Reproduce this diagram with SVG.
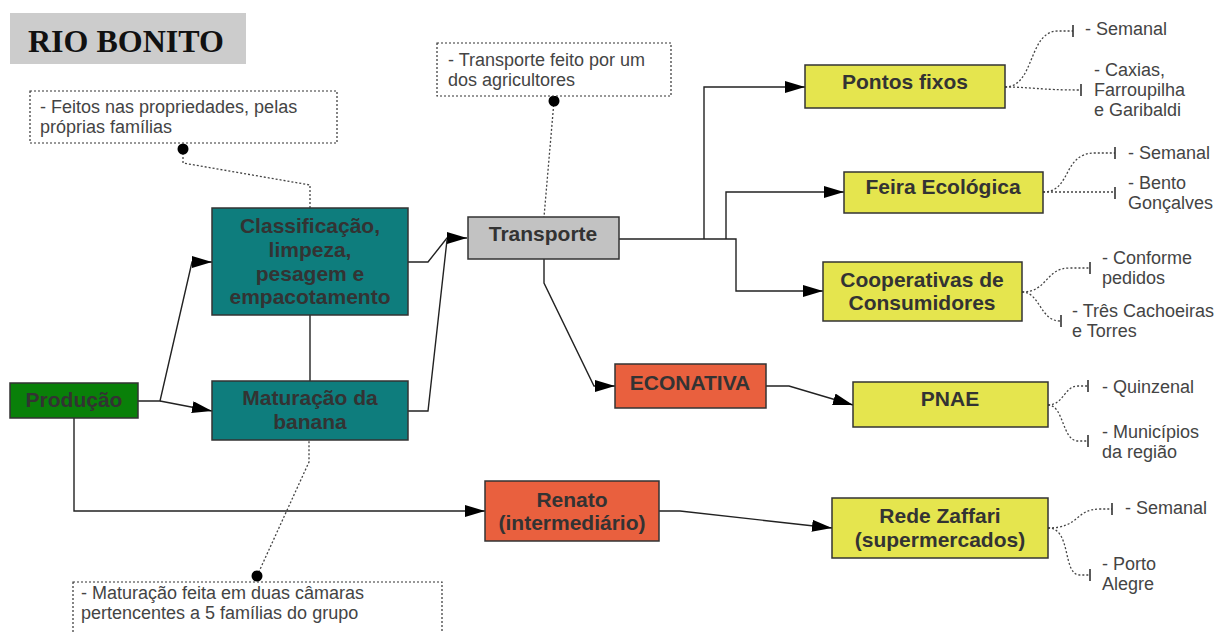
<svg xmlns="http://www.w3.org/2000/svg" width="1218" height="633" viewBox="0 0 1218 633">
<defs>
<marker id="arr" markerUnits="userSpaceOnUse" markerWidth="20" markerHeight="12" refX="20" refY="6" orient="auto"><path d="M0,0 L20,6 L0,12 z" fill="#000"/></marker>
<style>
.box{stroke:#333;stroke-width:1.5}
.bt{font-family:"Liberation Sans",Arial,sans-serif;font-weight:bold;font-size:21px;fill:#333;text-anchor:middle}
.nt{font-family:"Liberation Sans",Arial,sans-serif;font-size:18px;fill:#444}
.note{fill:#fff;stroke:#333;stroke-width:1.2;stroke-dasharray:2,2}
.dot{fill:none;stroke:#444;stroke-width:1.3;stroke-dasharray:2,2}
.con{fill:none;stroke:#222;stroke-width:1.4}
.tick{stroke:#333;stroke-width:1.6}
.teal{fill:#0e7d7d}.green{fill:#098009}.grey{fill:#c2c2c2}.orange{fill:#e9603e}.yellow{fill:#e5e54e}
</style>
</defs>
<rect x="0" y="0" width="1218" height="633" fill="#fff"/>
<g id="title"><rect x="10" y="13" width="236" height="51" fill="#cccccc"/><text x="28" y="52" font-family="Liberation Serif,'Times New Roman',serif" font-weight="bold" font-size="32" fill="#111">RIO BONITO</text></g>

<g id="connectors">
<path class="con" d="M138,401 H160 L192,262 H212" marker-end="url(#arr)"/>
<path class="con" d="M160,401 L212,411" marker-end="url(#arr)"/>
<path class="con" d="M408,262 H428 L447,238 H467" marker-end="url(#arr)"/>
<path class="con" d="M408,411 H428 L447,240"/>
<path class="con" d="M310,315 V381"/>
<path class="con" d="M74,418 V511 H485" marker-end="url(#arr)"/>
<path class="con" d="M619,239 H736 V291 H823" marker-end="url(#arr)"/>
<path class="con" d="M704,239 V87 H805" marker-end="url(#arr)"/>
<path class="con" d="M726,239 V192 H844" marker-end="url(#arr)"/>
<path class="con" d="M544,259 V283 L594,386 H615" marker-end="url(#arr)"/>
<path class="con" d="M766,386 H789 L853,405" marker-end="url(#arr)"/>
<path class="con" d="M659,511 H680 L832,528" marker-end="url(#arr)"/>
<path class="dot" d="M183,149 V163 L310,185 V208"/>
<path class="dot" d="M554,101 L544,217"/>
<path class="dot" d="M257,576 L309,462 V440"/>
<circle cx="183" cy="149" r="5.5" fill="#000"/>
<circle cx="554" cy="101" r="5.5" fill="#000"/>
<circle cx="257" cy="576" r="5.5" fill="#000"/>
<path class="dot" d="M1005,87 C1035,87 1028,31 1058,31 H1073"/>
<path class="dot" d="M1005,87 C1030,87 1040,90 1080,90"/>
<line class="tick" x1="1073" y1="25" x2="1073" y2="37"/>
<line class="tick" x1="1081" y1="84" x2="1081" y2="96"/>
<path class="dot" d="M1043,192 C1072,192 1062,153 1095,153 H1115"/>
<path class="dot" d="M1043,192 H1115"/>
<line class="tick" x1="1115" y1="147" x2="1115" y2="159"/>
<line class="tick" x1="1115" y1="187" x2="1115" y2="199"/>
<path class="dot" d="M1022,292 C1048,292 1045,268 1070,268 H1090"/>
<path class="dot" d="M1022,292 C1040,292 1040,321 1060,321"/>
<line class="tick" x1="1090" y1="262" x2="1090" y2="274"/>
<line class="tick" x1="1061" y1="315" x2="1061" y2="327"/>
<path class="dot" d="M1048,405 C1064,405 1064,386 1078,386 H1088"/>
<path class="dot" d="M1048,405 C1064,405 1062,441 1078,441 H1088"/>
<line class="tick" x1="1088" y1="380" x2="1088" y2="392"/>
<line class="tick" x1="1088" y1="435" x2="1088" y2="447"/>
<path class="dot" d="M1048,528 C1080,528 1075,509 1100,509 H1112"/>
<path class="dot" d="M1048,528 C1072,528 1062,575 1080,575 H1090"/>
<line class="tick" x1="1112" y1="503" x2="1112" y2="515"/>
<line class="tick" x1="1090" y1="569" x2="1090" y2="581"/>
</g>

<g id="note-familias"><rect class="note" x="30" y="91" width="307" height="52"/><text class="nt" x="40" y="113">- Feitos nas propriedades, pelas</text><text class="nt" x="40" y="133">próprias famílias</text></g>
<g id="note-transporte"><rect class="note" x="437" y="43" width="234" height="53"/><text class="nt" x="448" y="66">- Transporte feito por um</text><text class="nt" x="448" y="86">dos agricultores</text></g>
<g id="note-maturacao"><rect class="note" x="73" y="582" width="369" height="60"/><text class="nt" x="81" y="599">- Maturação feita em duas câmaras</text><text class="nt" x="81" y="619">pertencentes a 5 famílias do grupo</text></g>

<g id="producao"><rect class="box green" x="10" y="383" width="128" height="35"/><text class="bt" x="74" y="407">Produção</text></g>
<g id="classificacao"><rect class="box teal" x="212" y="208" width="196" height="107"/><text class="bt" x="310" y="233">Classificação,</text><text class="bt" x="310" y="257">limpeza,</text><text class="bt" x="310" y="281">pesagem e</text><text class="bt" x="310" y="304">empacotamento</text></g>
<g id="maturacao"><rect class="box teal" x="212" y="381" width="196" height="59"/><text class="bt" x="310" y="405">Maturação da</text><text class="bt" x="310" y="429">banana</text></g>
<g id="transporte"><rect class="box grey" x="468" y="217" width="151" height="42"/><text class="bt" x="543" y="241">Transporte</text></g>
<g id="econativa"><rect class="box orange" x="615" y="364" width="151" height="44"/><text class="bt" x="690" y="390">ECONATIVA</text></g>
<g id="renato"><rect class="box orange" x="485" y="481" width="174" height="60"/><text class="bt" x="572" y="507">Renato</text><text class="bt" x="572" y="530">(intermediário)</text></g>
<g id="pontos-fixos"><rect class="box yellow" x="805" y="65" width="200" height="43"/><text class="bt" x="905" y="89">Pontos fixos</text><text class="nt" x="1085" y="35">- Semanal</text><text class="nt" x="1094" y="76">- Caxias,</text><text class="nt" x="1094" y="96">Farroupilha</text><text class="nt" x="1094" y="116">e Garibaldi</text></g>
<g id="feira"><rect class="box yellow" x="844" y="172" width="199" height="41"/><text class="bt" x="943" y="194">Feira Ecológica</text><text class="nt" x="1128" y="159">- Semanal</text><text class="nt" x="1128" y="189">- Bento</text><text class="nt" x="1128" y="209">Gonçalves</text></g>
<g id="cooperativas"><rect class="box yellow" x="823" y="262" width="199" height="59"/><text class="bt" x="922" y="287">Cooperativas de</text><text class="bt" x="922" y="310">Consumidores</text><text class="nt" x="1102" y="264">- Conforme</text><text class="nt" x="1102" y="284">pedidos</text><text class="nt" x="1072" y="317">- Três Cachoeiras</text><text class="nt" x="1072" y="337">e Torres</text></g>
<g id="pnae"><rect class="box yellow" x="853" y="382" width="195" height="45"/><text class="bt" x="950" y="406">PNAE</text><text class="nt" x="1102" y="393">- Quinzenal</text><text class="nt" x="1102" y="438">- Municípios</text><text class="nt" x="1102" y="458">da região</text></g>
<g id="rede-zaffari"><rect class="box yellow" x="832" y="498" width="216" height="60"/><text class="bt" x="940" y="523">Rede Zaffari</text><text class="bt" x="940" y="547">(supermercados)</text><text class="nt" x="1125" y="514">- Semanal</text><text class="nt" x="1102" y="570">- Porto</text><text class="nt" x="1102" y="590">Alegre</text></g>
</svg>
